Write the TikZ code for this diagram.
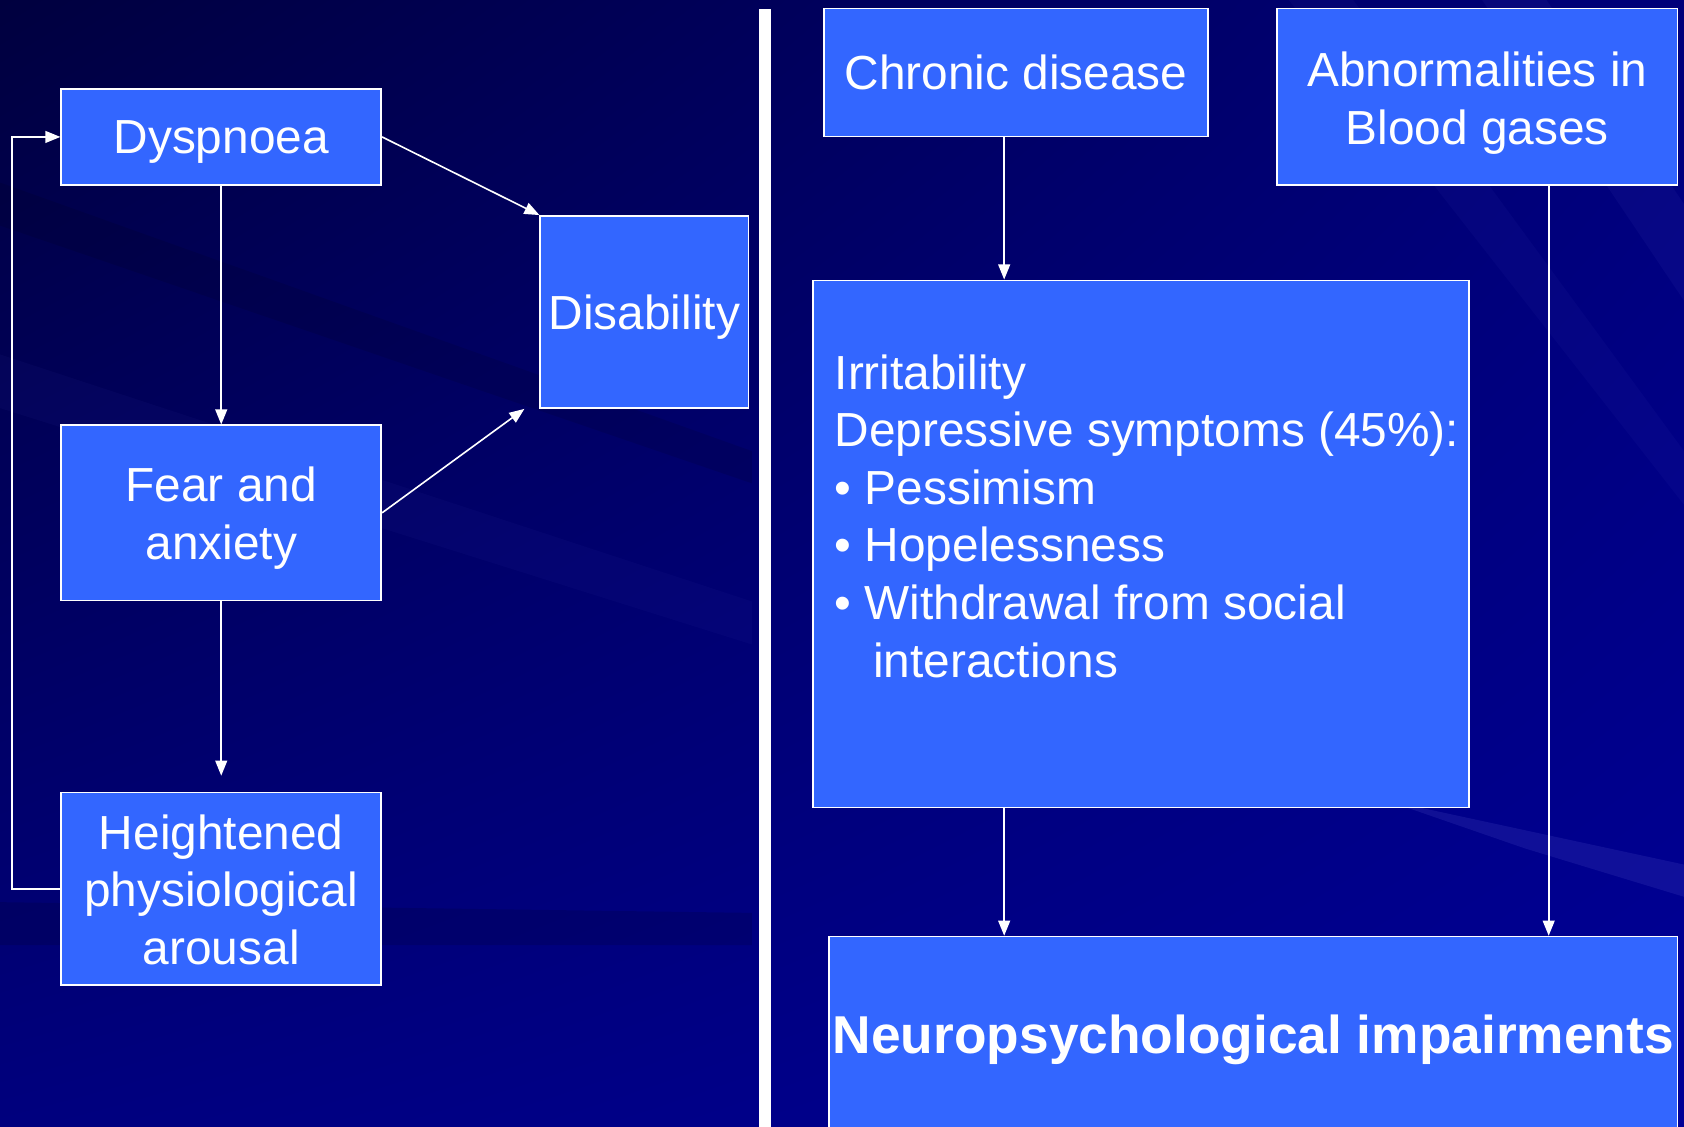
\documentclass[tikz,border=0pt]{standalone}
\usepackage{fontspec}
\setmainfont{Liberation Sans}
\usetikzlibrary{arrows.meta,calc,shadings}
\definecolor{boxblue}{HTML}{3366FF}
\definecolor{bgA}{HTML}{00003F}
\definecolor{bgB}{HTML}{00007A}
\definecolor{bgC}{HTML}{00007E}
\definecolor{bgD}{HTML}{000096}
\definecolor{streak}{HTML}{5A5AD0}
\begin{document}
\begin{tikzpicture}[x=1bp,y=-1bp,
  box/.style={draw=white, fill=boxblue, line width=1.5bp, inner sep=0pt},
  txt/.style={text=white, inner sep=0pt, font=\fontsize{44.7}{54}\selectfont, align=center},
  arr/.style={draw=white, line width=1.5bp, -{Triangle[length=14bp,width=11bp]}}]
% background
\clip (0,0) rectangle (1568,1049);
\shade[upper left=bgA, upper right=bgB, lower left=bgC, lower right=bgD] (0,0) rectangle (1568,1049);
\fill[streak, opacity=0.05] (0,330) -- (700,560) -- (700,600) -- (0,380) -- cycle;
\fill[black, opacity=0.10] (0,170) -- (700,420) -- (700,450) -- (0,210) -- cycle;
\fill[streak, opacity=0.08] (1380,0) -- (1440,0) -- (1568,190) -- (1568,280) -- cycle;
\fill[streak, opacity=0.06] (1200,0) -- (1260,0) -- (1568,420) -- (1568,470) -- cycle;
\fill[streak, opacity=0.18] (1290,745) -- (1568,805) -- (1568,835) -- (1420,790) -- cycle;
\fill[black, opacity=0.12] (0,840) -- (700,850) -- (700,880) -- (0,880) -- cycle;
% divider
\fill[white] (707,8) rectangle (718,1049);
% left side
\node[box, minimum width=298bp, minimum height=89bp,
  label={[txt,yshift=-5bp]center:Dyspnoea}] (dys) at (206,127.5) {};
\node[box, minimum width=298bp, minimum height=163bp,
  label={[txt,yshift=-5bp]center:{Fear and\\anxiety}}] (fear) at (206,477.5) {};
\node[box, minimum width=298bp, minimum height=179bp,
  label={[txt,yshift=-1bp]center:{Heightened\\physiological\\arousal}}] (heig) at (206,827.5) {};
\node[box, minimum width=194bp, minimum height=179bp,
  label={[txt,yshift=-5bp]center:Disability}] (dis) at (600,290.5) {};
\draw[arr] (dys.south) -- (fear.north);
\draw[arr, shorten >=15bp] (fear.south) -- (heig.north);
\draw[arr] (heig.west) -- ++(-45,0) |- (dys.west);
\draw[arr] (dys.east) -- (dis.north west);
\draw[arr] (fear.east) -- ($(dis.south west)+(-14,0)$);
% right side
\node[box, minimum width=358bp, minimum height=119bp,
  label={[txt]center:Chronic disease}] (chron) at (946,67.5) {};
\node[box, minimum width=373bp, minimum height=164bp,
  label={[txt,yshift=-6bp]center:{Abnormalities in\\Blood gases}}] (abn) at (1375.5,90) {};
\node[box, minimum width=611bp, minimum height=491bp] (big) at (1062.5,506.5) {};
\node[txt, anchor=north west, align=left, font=\fontsize{44.7}{53.8}\selectfont] (bigtext) at (777,330)
  {Irritability\\Depressive symptoms (45\%):\\%
   \textbullet\ Pessimism\\\textbullet\ Hopelessness\\%
   \textbullet\ Withdrawal from social\\\hspace*{36bp}interactions};
\node[box, minimum width=790bp, minimum height=182bp,
  label={[txt,yshift=-5bp,font=\fontsize{49.8}{58}\selectfont\bfseries]center:Neuropsychological impairments}] (neuro) at (1167,963) {};
\draw[arr] ($(chron.south)+(-11,0)$) coordinate (c1) -- (c1 |- big.north);
\draw[arr] (c1 |- big.south) -- (c1 |- neuro.north);
\draw[arr] ($(abn.south)+(66.5,0)$) coordinate (c2) -- (c2 |- neuro.north);
\end{tikzpicture}
\end{document}
